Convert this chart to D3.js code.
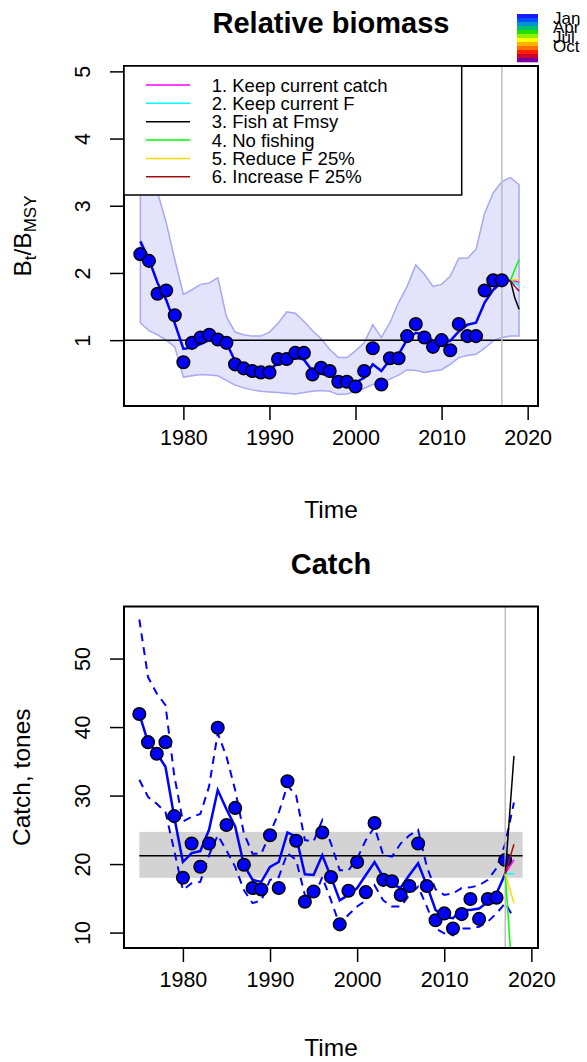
<!DOCTYPE html>
<html>
<head>
<meta charset="utf-8">
<script src="https://cdn.jsdelivr.net/npm/d3@7.9.0/dist/d3.min.js"></script>
<style>
  body { margin: 0; background: #fff; }
  text { font-family: "Liberation Sans", Arial, sans-serif; }
</style>
</head>
<body>
<div id="chart"></div>
<script>
// ---- data ----
const obsYears = d3.range(1975, 2018);   // 1975..2017
const fitYears = d3.range(1975, 2019);   // 1975..2018
const bandYears = d3.range(1975, 2020);  // 1975..2019

const biomassObs = [2.28, 2.18, 1.69, 1.74, 1.37, 0.67, 0.96, 1.04, 1.08, 1.01,
    0.96, 0.64, 0.58, 0.54, 0.52, 0.52, 0.72, 0.72, 0.81, 0.81,
    0.49, 0.59, 0.54, 0.38, 0.38, 0.31, 0.54, 0.88, 0.34, 0.73,
    0.73, 1.06, 1.24, 1.04, 0.90, 1.00, 0.85, 1.24, 1.06, 1.06,
    1.74, 1.89, 1.89];
const biomassFit = [2.47, 2.20, 1.85, 1.60, 1.25, 0.87, 0.89, 0.94, 1.00, 0.98,
    0.96, 0.69, 0.62, 0.56, 0.55, 0.56, 0.66, 0.70, 0.74, 0.71,
    0.54, 0.50, 0.47, 0.40, 0.39, 0.37, 0.44, 0.64, 0.54, 0.71,
    0.79, 1.01, 1.11, 1.08, 0.99, 0.96, 0.99, 1.13, 1.23, 1.26,
    1.56, 1.75, 1.86, 1.89];
const biomassUpper = [3.90, 3.60, 3.20, 2.75, 2.20, 1.68, 1.75, 1.83, 1.85, 1.93,
    1.35, 1.12, 1.08, 1.06, 1.06, 1.12, 1.25, 1.42, 1.40, 1.28,
    1.14, 1.02, 0.86, 0.74, 0.74, 0.84, 0.96, 1.23, 1.04, 1.26,
    1.56, 1.80, 2.12, 1.98, 1.80, 1.83, 1.95, 2.22, 2.22, 2.35,
    2.89, 3.19, 3.36, 3.42, 3.31];
const biomassLower = [1.26, 1.14, 1.08, 1.00, 0.90, 0.45, 0.47, 0.49, 0.48, 0.47,
    0.40, 0.33, 0.29, 0.26, 0.24, 0.23, 0.22, 0.21, 0.20, 0.22,
    0.24, 0.25, 0.24, 0.19, 0.20, 0.24, 0.28, 0.34, 0.37, 0.42,
    0.48, 0.56, 0.55, 0.52, 0.54, 0.56, 0.64, 0.74, 0.77, 0.79,
    0.88, 0.99, 1.04, 1.06, 1.06];

const catchObs = [41.9, 37.8, 36.1, 37.8, 27.0, 18.0, 23.0, 19.6, 23.0, 39.9,
    25.7, 28.2, 19.9, 16.5, 16.3, 24.2, 16.5, 32.1, 23.4, 14.5,
    16.0, 24.6, 18.1, 11.2, 16.1, 20.3, 15.9, 26.0, 17.7, 17.5,
    15.5, 16.8, 23.0, 16.8, 11.8, 12.8, 10.6, 12.7, 14.9, 12.0,
    14.9, 15.1, 20.6];
const catchFit = [41.9, 37.8, 36.2, 34.2, 26.9, 20.3, 21.6, 21.9, 25.0, 30.8,
    28.0, 25.5, 19.9, 17.7, 17.4, 19.6, 20.3, 24.6, 24.0, 18.5,
    18.4, 21.3, 18.1, 14.7, 15.5, 16.5, 18.4, 20.3, 18.1, 16.9,
    16.6, 18.4, 20.1, 16.9, 13.3, 12.3, 12.1, 13.3, 13.3, 13.5,
    14.5, 15.7, 18.6];
const catchUpper = [55.7, 47.3, 44.9, 43.2, 33.0, 26.2, 26.9, 27.3, 31.3, 39.1,
    35.7, 30.8, 24.5, 21.5, 21.5, 24.5, 27.5, 31.5, 30.0, 23.5,
    23.3, 26.4, 23.0, 19.1, 19.1, 20.8, 23.5, 25.4, 21.3, 21.1,
    23.0, 24.2, 25.0, 19.6, 16.3, 15.5, 15.7, 16.5, 16.6, 16.9,
    17.7, 19.4, 23.0, 29.0];
const catchLower = [32.3, 29.8, 28.8, 27.6, 22.0, 16.2, 17.2, 17.4, 21.3, 24.2,
    22.0, 19.6, 16.2, 14.3, 14.7, 17.7, 18.1, 21.6, 20.6, 15.5,
    15.0, 18.1, 14.7, 11.1, 12.6, 13.8, 14.7, 16.9, 14.7, 13.8,
    13.8, 15.5, 16.7, 13.8, 10.6, 9.9, 9.6, 10.6, 10.6, 10.85,
    11.6, 12.8, 14.3, 12.1];

const scenarioNames = ["1. Keep current catch", "2. Keep current F", "3. Fish at Fmsy",
    "4. No fishing", "5. Reduce F 25%", "6. Increase F 25%"];
const scenarioColors = ["#ff00ff", "#00ffff", "#000000", "#00ff00", "#ffd700", "#a01010"];

const biomassProjTimes = [2018, 2018.5, 2019];
const biomassProj = [
    [1.89, 1.88, 1.86],
    [1.89, 1.85, 1.81],
    [1.89, 1.63, 1.46],
    [1.89, 2.05, 2.20],
    [1.89, 1.90, 1.90],
    [1.89, 1.80, 1.73]
];
const catchProjTimes = [2017, 2018];
const catchProj = [
    [18.6, 20.6],
    [18.6, 18.6],
    [18.6, 35.8],
    [18.6, 0.0],
    [18.6, 14.3],
    [18.6, 22.9]
];

const refCatch = 21.2;
const refCatchLow = 18.0;
const refCatchHigh = 24.7;
const refSpan = [1975, 2019];
const lastYear = 2017;

const biomassXTicks = [1980, 1990, 2000, 2010, 2020];
const biomassYTicks = [1, 2, 3, 4, 5];
const catchXTicks = [1980, 1990, 2000, 2010, 2020];
const catchYTicks = [10, 20, 30, 40, 50];

const monthLabels = ["Jan", "Apr", "Jul", "Oct"];
const seasonColors = ["#1a1aff", "#0050ff", "#0095d0", "#00c070", "#20e000", "#90f000",
    "#ffff00", "#ffb000", "#ff7000", "#ff2000", "#d00030", "#7a00a0"];

// ---- layout ----
const width = 587, height = 1062;
const font = '"Liberation Sans", Arial, sans-serif';

const svg = d3.select('#chart')
    .append('svg')
    .attr('width', width)
    .attr('height', height)
    .style('display', 'block');
svg.append('rect').attr('width', width).attr('height', height).attr('fill', '#fff');

const box1 = { left: 124, right: 538, top: 66, bottom: 406 };
const box2 = { left: 124, right: 538, top: 606.5, bottom: 948 };

const x1 = d3.scaleLinear().domain([1973.1, 2021.2]).range([box1.left, box1.right]);
const y1 = d3.scaleLinear().domain([0.02, 5.08]).range([box1.bottom, box1.top]);
const x2 = d3.scaleLinear().domain([1973.24, 2020.76]).range([box2.left, box2.right]);
const y2 = d3.scaleLinear().domain([7.75, 57.6]).range([box2.bottom, box2.top]);

const defs = svg.append('defs');
[['clip1', box1], ['clip2', box2]].forEach(([id, b]) => {
    defs.append('clipPath').attr('id', id)
        .append('rect')
        .attr('x', b.left).attr('y', b.top)
        .attr('width', b.right - b.left).attr('height', b.bottom - b.top);
});

function drawAxes(box, x, y, xTicks, yTicks) {
    const gx = svg.append('g')
        .attr('transform', `translate(0,${box.bottom})`)
        .call(d3.axisBottom(x).tickValues(xTicks).tickSize(14).tickPadding(10).tickFormat(d3.format('d')));
    gx.attr('font-size', 21.5).attr('font-family', font);
    gx.select('.domain').remove();
    gx.selectAll('line').attr('stroke', '#000').attr('stroke-width', 1.5);
    gx.selectAll('text').attr('fill', '#000');

    const gy = svg.append('g')
        .attr('transform', `translate(${box.left},0)`)
        .call(d3.axisLeft(y).tickValues(yTicks).tickSize(14).tickFormat(d3.format('d')));
    gy.attr('font-size', 21.5).attr('font-family', font);
    gy.select('.domain').remove();
    gy.selectAll('line').attr('stroke', '#000').attr('stroke-width', 1.5);
    gy.selectAll('text')
        .attr('fill', '#000')
        .attr('x', 0).attr('dy', 0)
        .attr('text-anchor', 'middle')
        .attr('transform', 'translate(-34,0) rotate(-90)');

    svg.append('rect')
        .attr('x', box.left).attr('y', box.top)
        .attr('width', box.right - box.left).attr('height', box.bottom - box.top)
        .attr('fill', 'none').attr('stroke', '#000').attr('stroke-width', 2);
}

function addText(x, y, str, size, opts = {}) {
    return svg.append('text')
        .attr('x', x).attr('y', y)
        .attr('text-anchor', opts.anchor || 'middle')
        .attr('font-size', size)
        .attr('font-weight', opts.bold ? 'bold' : null)
        .attr('fill', '#000')
        .text(str);
}

// ================= Relative biomass =================
const p1 = svg.append('g').attr('clip-path', 'url(#clip1)');

const band1 = d3.area()
    .x((d, i) => x1(bandYears[i]))
    .y0((d, i) => y1(biomassLower[i]))
    .y1((d) => y1(d));
p1.append('path')
    .datum(biomassUpper)
    .attr('d', band1)
    .attr('fill', '#e3e3fb')
    .attr('stroke', '#a8a8f4')
    .attr('stroke-width', 1.5);

p1.append('line')
    .attr('x1', box1.left).attr('x2', box1.right)
    .attr('y1', y1(1)).attr('y2', y1(1))
    .attr('stroke', '#000').attr('stroke-width', 1.5);
p1.append('line')
    .attr('x1', x1(lastYear)).attr('x2', x1(lastYear))
    .attr('y1', box1.top).attr('y2', box1.bottom)
    .attr('stroke', '#bebebe').attr('stroke-width', 1.5);

p1.append('path')
    .datum(biomassFit)
    .attr('d', d3.line().x((d, i) => x1(fitYears[i])).y(d => y1(d)))
    .attr('fill', 'none').attr('stroke', '#0000ff').attr('stroke-width', 2.5);

p1.selectAll('circle.obs')
    .data(biomassObs)
    .join('circle')
    .attr('class', 'obs')
    .attr('cx', (d, i) => x1(obsYears[i]))
    .attr('cy', d => y1(d))
    .attr('r', 6.3)
    .attr('fill', '#0000ff').attr('stroke', '#000').attr('stroke-width', 1.5);

biomassProj.forEach((vals, k) => {
    p1.append('path')
        .datum(vals)
        .attr('d', d3.line().x((d, i) => x1(biomassProjTimes[i])).y(d => y1(d)))
        .attr('fill', 'none').attr('stroke', scenarioColors[k]).attr('stroke-width', 1.5);
});

drawAxes(box1, x1, y1, biomassXTicks, biomassYTicks);

// legend
const leg = svg.append('g');
leg.append('rect')
    .attr('x', 124).attr('y', 66).attr('width', 337.7).attr('height', 129)
    .attr('fill', '#fff').attr('stroke', '#000').attr('stroke-width', 1.5);
scenarioNames.forEach((name, k) => {
    const cy = 85 + k * 18.35;
    leg.append('line')
        .attr('x1', 146).attr('x2', 190).attr('y1', cy).attr('y2', cy)
        .attr('stroke', scenarioColors[k]).attr('stroke-width', 1.5);
    leg.append('text')
        .attr('x', 211.7).attr('y', cy + 6.6)
        .attr('font-size', 18.5).attr('fill', '#000')
        .text(name);
});

// season colour key (labels overlap in the original as well)
const keyScale = d3.scaleBand().domain(d3.range(seasonColors.length)).range([14, 62]);
svg.selectAll('rect.season')
    .data(seasonColors)
    .join('rect')
    .attr('class', 'season')
    .attr('x', 517).attr('width', 21)
    .attr('y', (d, i) => keyScale(i))
    .attr('height', keyScale.bandwidth() + 0.3)
    .attr('fill', d => d);
const monthY = d3.scaleLinear().domain([0, 3]).range([24, 52]);
monthLabels.forEach((m, i) => addText(553, monthY(i), m, 17, { anchor: 'start' }));

addText(331, 33, 'Relative biomass', 29, { bold: true });
addText(331, 518, 'Time', 24.5);

const ylab1 = svg.append('text')
    .attr('transform', `translate(31,${(box1.top + box1.bottom) / 2}) rotate(-90)`)
    .attr('text-anchor', 'middle')
    .attr('font-size', 24.5).attr('fill', '#000');
ylab1.append('tspan').text('B');
ylab1.append('tspan').attr('font-size', 17).attr('dy', 5).text('t');
ylab1.append('tspan').attr('dy', -5).text('/B');
ylab1.append('tspan').attr('font-size', 17).attr('dy', 5).text('MSY');

// ================= Catch =================
const p2 = svg.append('g').attr('clip-path', 'url(#clip2)');

p2.append('rect')
    .attr('x', x2(refSpan[0])).attr('width', x2(refSpan[1]) - x2(refSpan[0]))
    .attr('y', y2(refCatchHigh)).attr('height', y2(refCatchLow) - y2(refCatchHigh))
    .attr('fill', '#d3d3d3');
p2.append('line')
    .attr('x1', x2(refSpan[0])).attr('x2', x2(refSpan[1]))
    .attr('y1', y2(refCatch)).attr('y2', y2(refCatch))
    .attr('stroke', '#000').attr('stroke-width', 1.5);

const catchLine = d3.line().x((d, i) => x2(fitYears[i])).y(d => y2(d));
[catchUpper, catchLower].forEach(arr => {
    p2.append('path')
        .datum(arr)
        .attr('d', catchLine)
        .attr('fill', 'none').attr('stroke', '#0000ff')
        .attr('stroke-width', 2).attr('stroke-dasharray', '8,6');
});
p2.append('path')
    .datum(catchFit)
    .attr('d', d3.line().x((d, i) => x2(obsYears[i])).y(d => y2(d)))
    .attr('fill', 'none').attr('stroke', '#0000ff').attr('stroke-width', 2.5);

p2.selectAll('circle.obs')
    .data(catchObs)
    .join('circle')
    .attr('class', 'obs')
    .attr('cx', (d, i) => x2(obsYears[i]))
    .attr('cy', d => y2(d))
    .attr('r', 6.3)
    .attr('fill', '#0000ff').attr('stroke', '#000').attr('stroke-width', 1.5);

p2.append('line')
    .attr('x1', x2(lastYear)).attr('x2', x2(lastYear))
    .attr('y1', box2.top).attr('y2', box2.bottom)
    .attr('stroke', '#bebebe').attr('stroke-width', 1.5);

catchProj.forEach((vals, k) => {
    p2.append('path')
        .datum(vals)
        .attr('d', d3.line().x((d, i) => x2(catchProjTimes[i])).y(d => y2(d)))
        .attr('fill', 'none').attr('stroke', scenarioColors[k]).attr('stroke-width', 1.5);
});

drawAxes(box2, x2, y2, catchXTicks, catchYTicks);

addText(331, 574, 'Catch', 29, { bold: true });
addText(331, 1056, 'Time', 24.5);
svg.append('text')
    .attr('transform', `translate(30,${(box2.top + box2.bottom) / 2}) rotate(-90)`)
    .attr('text-anchor', 'middle')
    .attr('font-size', 24.5).attr('fill', '#000')
    .text('Catch, tones');
</script>
</body>
</html>
